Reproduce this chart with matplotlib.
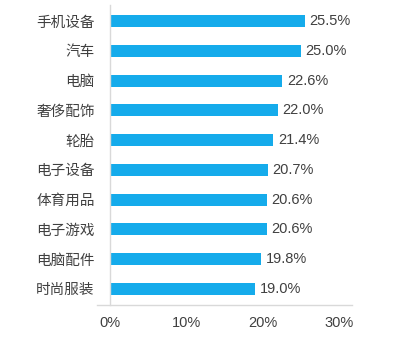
import matplotlib.pyplot as plt
from matplotlib.lines import Line2D

plt.rcParams['font.family'] = ['Liberation Sans', 'Noto Sans CJK SC']

categories = ['手机设备', '汽车', '电脑', '奢侈配饰', '轮胎',
              '电子设备', '体育用品', '电子游戏', '电脑配件', '时尚服装']
values = [25.5, 25.0, 22.6, 22.0, 21.4, 20.7, 20.6, 20.6, 19.8, 19.0]
xticks = [0, 10, 20, 30]

bar_color = '#15ABEB'
text_color = '#404040'
line_color = '#D9D9D9'

fig = plt.figure(figsize=(4.1, 3.4), dpi=100)
ax = fig.add_axes([0.268, 0.103, 0.5585, 0.882])

y = list(range(len(categories)))
ax.barh(y, values, height=0.4, color=bar_color)
for yi, v in zip(y, values):
    ax.text(v + 0.6, yi, f'{v:.1f}%', va='center', ha='left',
            fontsize=10.5, color=text_color)

ax.set_xlim(0, 30)
ax.set_ylim(9.54, -0.54)
ax.set_yticks(y)
ax.set_yticklabels(categories, fontsize=10.5, color=text_color,
                   family=['Noto Sans CJK SC', 'DejaVu Sans'])
ax.set_xticks(xticks)
ax.set_xticklabels([f'{t}%' for t in xticks], fontsize=10.5, color=text_color)
ax.tick_params(axis='both', length=0)
ax.tick_params(axis='y', pad=11)
ax.tick_params(axis='x', pad=8)

for s in ['top', 'right', 'bottom']:
    ax.spines[s].set_visible(False)
ax.spines['left'].set_color(line_color)
ax.spines['left'].set_linewidth(1)

# bottom baseline extends beyond the plot area
ax.add_line(Line2D([-0.057, 1.057], [0, 0], transform=ax.transAxes,
                   color=line_color, lw=1, clip_on=False))

fig.savefig('out.png', dpi=100)
